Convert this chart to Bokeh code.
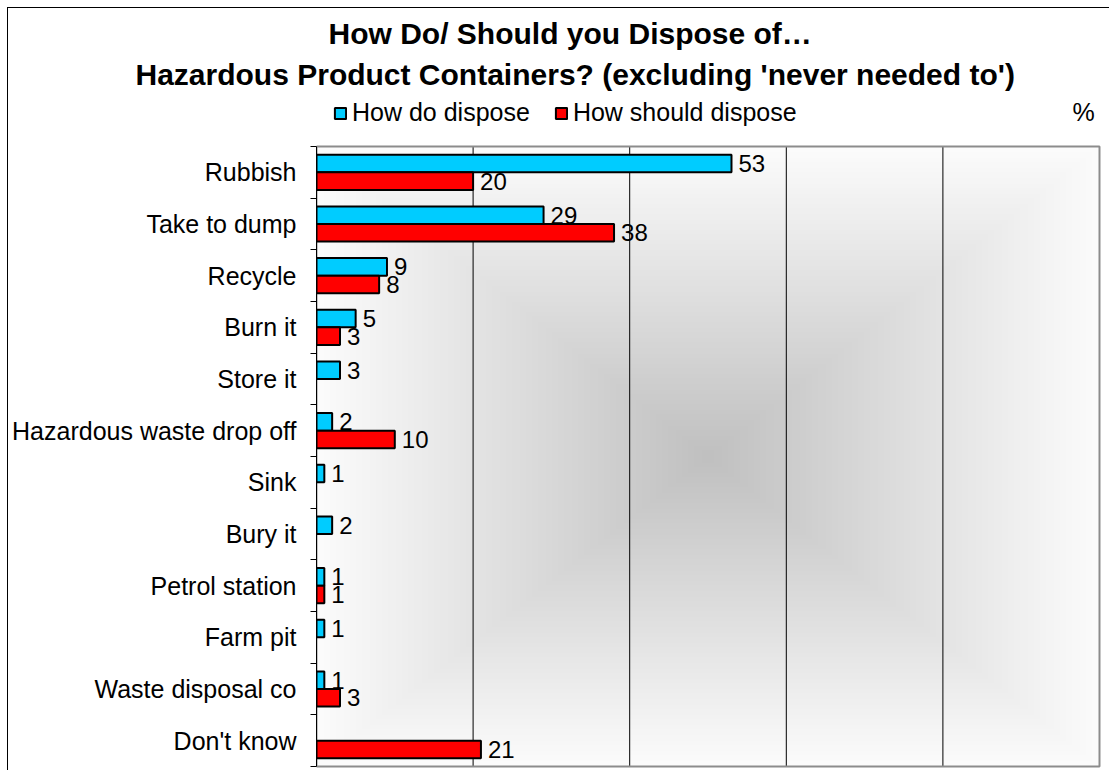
import numpy as np
from bokeh.plotting import figure
from bokeh.models import (Range1d, FixedTicker, ColumnDataSource, LabelSet, Label,
                          Legend, LegendItem, Title)
from bokeh.core.properties import value
from bokeh.embed import file_html
from bokeh.resources import INLINE

# ---------------- data ----------------
categories = ["Rubbish", "Take to dump", "Recycle", "Burn it", "Store it",
              "Hazardous waste drop off", "Sink", "Bury it", "Petrol station",
              "Farm pit", "Waste disposal co", "Don't know"]
how_do = [53, 29, 9, 5, 3, 2, 1, 2, 1, 1, 1, None]
how_should = [20, 38, 8, 3, None, 10, None, None, 1, None, 3, 21]
series_names = ["How do dispose", "How should dispose"]
x_gridlines = [20, 40, 60, 80]
x_max = 100
title_lines = ["How Do/ Should you Dispose of\u2026",
               "Hazardous Product Containers? (excluding 'never needed to')"]
unit_label = "%"

# ---------------- styling / layout (page pixels) ----------------
FONT = "Liberation Sans"
BLUE = "#00CCFF"
RED = "#FF0000"
ORIGIN = 8                      # content starts after 7px margin + 1px border
AREA_L, AREA_R = 316, 1099      # plot-area edges on the page
AREA_T, AREA_B = 146, 766
FRAME_T, FRAME_B = 90, 768
FRAME_R = 1101

n = len(categories)
centers = [n - 1 - i for i in range(n)]
BAR_H = 0.34
px_x = (AREA_R - AREA_L) / x_max
px_y = (AREA_B - AREA_T) / n

x_end = x_max + (FRAME_R - AREA_R) / px_x
y_start = -0.5 - (FRAME_B - AREA_B) / px_y
y_end = n - 0.5 + (AREA_T - FRAME_T) / px_y

p = figure(frame_width=FRAME_R - AREA_L, frame_height=FRAME_B - FRAME_T,
           output_backend="svg", toolbar_location=None, title=None,
           x_range=Range1d(0, x_end), y_range=Range1d(y_start, y_end),
           min_border_left=AREA_L - ORIGIN, min_border_top=FRAME_T - ORIGIN,
           min_border_right=8, min_border_bottom=2)
p.margin = (7, 0, 0, 7)
p.styles = {"border-top": "1px solid black", "border-left": "1px solid black"}
p.background_fill_color = "white"
p.border_fill_color = "white"
p.outline_line_color = None
p.xgrid.visible = False
p.ygrid.visible = False
p.xaxis.visible = False

# background rectangular gradient of the plot area (styling only)
nx, ny = 392, 310
gx, gy = np.meshgrid(np.linspace(-1, 1, nx), np.linspace(-1, 1, ny))
dist = np.maximum(np.abs(gx), np.abs(gy))
gray = np.clip(192 + 60 * dist, 0, 255).astype(np.uint32)
img = (np.uint32(255) << 24) | (gray << 16) | (gray << 8) | gray
p.image_rgba(image=[img], x=0, y=-0.5, dw=x_max, dh=n, level="image")

# vertical gridlines and plot-area border
p.segment(x0=x_gridlines, y0=[-0.5] * len(x_gridlines),
          x1=x_gridlines, y1=[n - 0.5] * len(x_gridlines),
          line_color="black", line_width=1)
p.quad(left=[0], right=[x_max], bottom=[-0.5], top=[n - 0.5],
       fill_color=None, line_color="#8C8C8C", line_width=2)

# y axis: labels at category centres, tick marks at category boundaries
yax = p.yaxis[0]
yax.bounds = (-0.5, n - 0.5)
yax.ticker = FixedTicker(ticks=centers,
                         minor_ticks=[c - 0.5 for c in centers] + [n - 0.5])
yax.major_label_overrides = {c: name for c, name in zip(centers, categories)}
yax.major_tick_out = 0
yax.major_tick_in = 0
yax.minor_tick_out = 6
yax.minor_tick_in = 0
yax.minor_tick_line_color = "black"
yax.axis_line_color = "black"
yax.major_label_standoff = 14
yax.major_label_text_font = FONT
yax.major_label_text_font_size = "25px"
yax.major_label_text_color = "black"


def series_source(values, shift):
    ys, xs, labels = [], [], []
    for c, v in zip(centers, values):
        if v is None:
            continue
        ys.append(c + shift)
        xs.append(v)
        labels.append(str(v))
    return ColumnDataSource(dict(y=ys, right=xs, label=labels))


src_do = series_source(how_do, BAR_H / 2)
src_should = series_source(how_should, -BAR_H / 2)

r_do = p.hbar(y="y", left=0, right="right", height=BAR_H, source=src_do,
              fill_color=BLUE, line_color="black", line_width=2)
r_should = p.hbar(y="y", left=0, right="right", height=BAR_H, source=src_should,
                  fill_color=RED, line_color="black", line_width=2)

for src in (src_do, src_should):
    p.add_layout(LabelSet(x="right", y="y", text="label", source=src, x_offset=7,
                          text_baseline="middle", text_font=value(FONT),
                          text_font_size=value("24px"), text_color="black"))

# legend row (inside the white top part of the frame)
legend = Legend(items=[LegendItem(label=series_names[0], renderers=[r_do]),
                       LegendItem(label=series_names[1], renderers=[r_should])],
                orientation="horizontal", location=(333 - AREA_L, FRAME_B - 127),
                padding=0, margin=0, spacing=24, label_standoff=5,
                glyph_width=14, glyph_height=14,
                label_text_font=FONT, label_text_font_size="25px",
                label_text_color="black",
                border_line_color=None, background_fill_alpha=0)
p.add_layout(legend)

p.add_layout(Label(x=1083 - AREA_L, y=FRAME_B - 111, x_units="screen", y_units="screen",
                   text=unit_label, text_align="center", text_baseline="middle",
                   text_font=FONT, text_font_size="25px", text_color="black"))

# two-line title (first added sits nearest the plot)
title_specs = [(title_lines[0], 328, 12), (title_lines[1], 135, 0)]
for line, left_px, stand in reversed(title_specs):
    p.add_layout(Title(text=line, align="left", offset=left_px - AREA_L, standoff=stand,
                       text_font=FONT, text_font_style="bold", text_font_size="30px",
                       text_color="black"), "above")

open("out.html", "w").write(file_html(p, INLINE))
